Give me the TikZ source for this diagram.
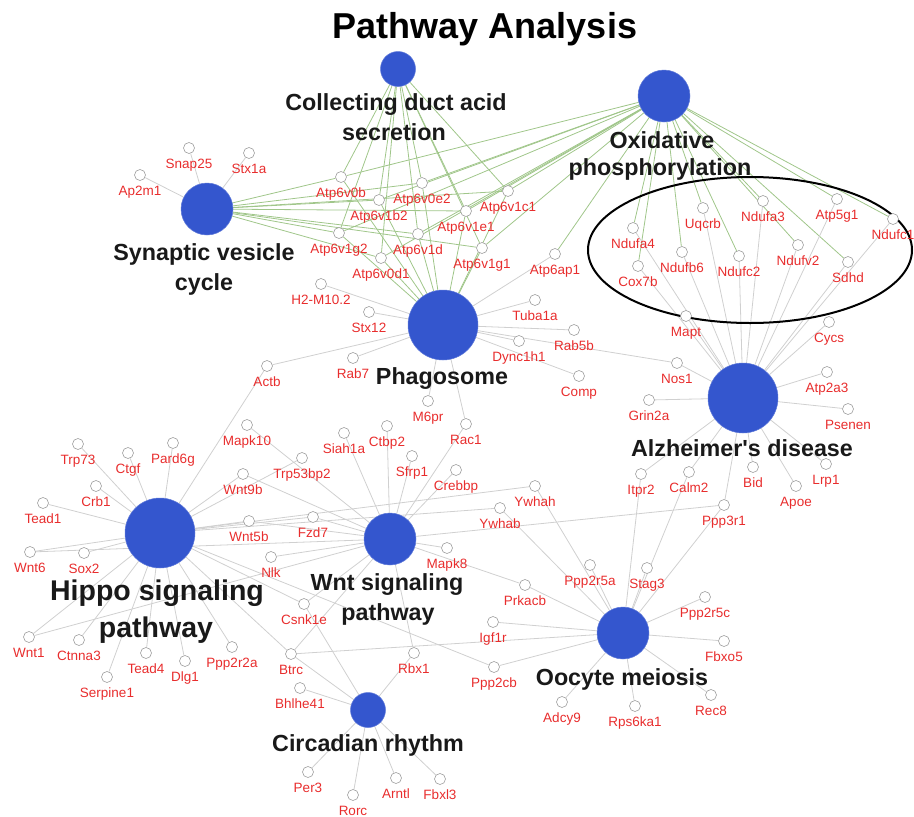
\documentclass[tikz,border=0pt]{standalone}
\usepackage{fontspec}
\setmainfont{Liberation Sans}[Ligatures=TeXOff]
\usetikzlibrary{shapes.geometric}
\pgfdeclarelayer{bg}
\pgfsetlayers{bg,main}
\definecolor{hubblue}{RGB}{52,86,206}
\definecolor{genered}{RGB}{232,45,45}
\definecolor{edgegray}{RGB}{208,208,208}
\definecolor{edgegreen}{RGB}{160,198,138}
\definecolor{hubtext}{RGB}{25,25,25}
\tikzset{
  gene/.style={circle,draw=gray!75,fill=white,minimum size=11pt,inner sep=0pt,line width=0.6pt},
  lab/.style={anchor=base,inner sep=0pt,text=genered,font=\fontsize{13.5}{15}\selectfont},
  hub/.style={circle,fill=hubblue,draw=hubblue!80,line width=0.5pt,inner sep=0pt,minimum size=#1},
  hublab/.style={anchor=base,inner sep=0pt,text=hubtext,font=\bfseries\fontsize{23.3}{28}\selectfont},
  biglab/.style={anchor=base,inner sep=0pt,text=hubtext,font=\bfseries\fontsize{28.5}{34}\selectfont},
  eg/.style={draw=edgegray,line width=0.8pt},
  egr/.style={draw=edgegreen,line width=0.8pt},
}
\newcommand\gn[4]{\node[gene] (#1) at (#2,#3) {};\node[lab] (#1l) at (#2,#3+20.8) {#4};}
\begin{document}
\begin{tikzpicture}[x=1pt,y=-1pt]
\useasboundingbox (0,0) rectangle (914,817);
% title
\node[anchor=base,inner sep=0pt,text=black,font=\bfseries\fontsize{36}{40}\selectfont] (title) at (485,38.9) {Pathway Analysis};
% hubs
\node[hub=35pt] (CD) at (398,69) {};
\node[hub=52pt] (OX) at (664,96) {};
\node[hub=52pt] (SV) at (207,209) {};
\node[hub=70pt] (PH) at (443,325) {};
\node[hub=70pt] (AD) at (743,398) {};
\node[hub=70pt] (HP) at (160,533) {};
\node[hub=52pt] (WN) at (390,539) {};
\node[hub=52pt] (OO) at (623,633) {};
\node[hub=35pt] (CR) at (368,710) {};
% hub labels
\node[hublab] (CDl1) at (396,110.3) {Collecting duct acid};
\node[hublab] (CDl2) at (394,140.3) {secretion};
\node[hublab] (OXl1) at (662,148.3) {Oxidative};
\node[hublab] (OXl2) at (660,175.3) {phosphorylation};
\node[hublab] (SVl1) at (204,260.3) {Synaptic vesicle};
\node[hublab] (SVl2) at (204,290.3) {cycle};
\node[hublab] (PHl) at (442,384.3) {Phagosome};
\node[hublab] (ADl) at (742,456.3) {Alzheimer's disease};
\node[biglab] (HPl1) at (157,600.2) {Hippo signaling};
\node[biglab] (HPl2) at (156,637.2) {pathway};
\node[hublab] (WNl1) at (387,590.3) {Wnt signaling};
\node[hublab] (WNl2) at (388,620.3) {pathway};
\node[hublab] (OOl) at (622,685.3) {Oocyte meiosis};
\node[hublab] (CRl) at (368,751.3) {Circadian rhythm};
% ellipse
\node[ellipse,draw=black,line width=2pt,minimum width=324pt,minimum height=146pt,inner sep=0pt] (oxset) at (750,250) {};
% genes
\gn{Snap25}{189}{148}{Snap25}
\gn{Stx1a}{249}{153}{Stx1a}
\gn{Ap2m1}{140}{175}{Ap2m1}
\gn{H2M}{321}{284}{H2-M10.2}
\gn{A0b}{341}{177}{Atp6v0b}
\gn{A0e2}{422}{183}{Atp6v0e2}
\gn{A1b2}{379}{200}{Atp6v1b2}
\gn{A1c1}{508}{191}{Atp6v1c1}
\gn{A1e1}{466}{211}{Atp6v1e1}
\gn{A1g2}{339}{233}{Atp6v1g2}
\gn{A1d}{418}{234}{Atp6v1d}
\gn{A0d1}{381}{258}{Atp6v0d1}
\gn{A1g1}{482}{248}{Atp6v1g1}
\gn{Aap1}{555}{254}{Atp6ap1}
\gn{Stx12}{369}{312}{Stx12}
\gn{Tuba1a}{535}{300}{Tuba1a}
\gn{Rab5b}{574}{330}{Rab5b}
\gn{Dync1h1}{519}{341}{Dync1h1}
\gn{Rab7}{353}{358}{Rab7}
\gn{Comp}{579}{376}{Comp}
\gn{M6pr}{428}{401}{M6pr}
\gn{Rac1}{466}{424}{Rac1}
\gn{Siah1a}{344}{433}{Siah1a}
\gn{Ctbp2}{387}{426}{Ctbp2}
\gn{Sfrp1}{412}{456}{Sfrp1}
\gn{Crebbp}{456}{470}{Crebbp}
\gn{Ywhah}{535}{486}{Ywhah}
\gn{Ywhab}{500}{508}{Ywhab}
\gn{Mapk8}{447}{548}{Mapk8}
\gn{Fzd7}{313}{517}{Fzd7}
\gn{Wnt5b}{249}{521}{Wnt5b}
\gn{Nlk}{271}{557}{Nlk}
\gn{Csnk1e}{304}{604}{Csnk1e}
\gn{Wnt9b}{243}{474}{Wnt9b}
\gn{Trp53bp2}{302}{458}{Trp53bp2}
\gn{Mapk10}{247}{425}{Mapk10}
\gn{Actb}{267}{366}{Actb}
\gn{Trp73}{78}{444}{Trp73}
\gn{Ctgf}{128}{453}{Ctgf}
\gn{Pard6g}{173}{443}{Pard6g}
\gn{Crb1}{96}{486}{Crb1}
\gn{Tead1}{43}{503}{Tead1}
\gn{Wnt6}{30}{552}{Wnt6}
\gn{Sox2}{84}{553}{Sox2}
\gn{Wnt1}{29}{637}{Wnt1}
\gn{Ctnna3}{79}{640}{Ctnna3}
\gn{Tead4}{146}{653}{Tead4}
\gn{Dlg1}{185}{661}{Dlg1}
\gn{Ppp2r2a}{232}{647}{Ppp2r2a}
\gn{Serpine1}{107}{677}{Serpine1}
\gn{Btrc}{291}{654}{Btrc}
\gn{Bhlhe41}{300}{688}{Bhlhe41}
\gn{Rbx1}{414}{653}{Rbx1}
\gn{Igf1r}{493}{622}{Igf1r}
\gn{Ppp2cb}{494}{667}{Ppp2cb}
\gn{Prkacb}{525}{585}{Prkacb}
\gn{Per3}{308}{772}{Per3}
\gn{Rorc}{353}{795}{Rorc}
\gn{Arntl}{396}{778}{Arntl}
\gn{Fbxl3}{440}{779}{Fbxl3}
\gn{Ppp3r1}{724}{505}{Ppp3r1}
\gn{Ppp2r5a}{590}{565}{Ppp2r5a}
\gn{Stag3}{647}{568}{Stag3}
\gn{Ppp2r5c}{705}{597}{Ppp2r5c}
\gn{Fbxo5}{724}{641}{Fbxo5}
\gn{Rec8}{711}{695}{Rec8}
\gn{Rps6ka1}{635}{706}{Rps6ka1}
\gn{Adcy9}{562}{702}{Adcy9}
\gn{Nos1}{677}{363}{Nos1}
\gn{Grin2a}{649}{400}{Grin2a}
\gn{Atp2a3}{827}{372}{Atp2a3}
\gn{Psenen}{848}{409}{Psenen}
\gn{Itpr2}{641}{474}{Itpr2}
\gn{Calm2}{689}{472}{Calm2}
\gn{Bid}{753}{467}{Bid}
\gn{Lrp1}{826}{464}{Lrp1}
\gn{Apoe}{796}{486}{Apoe}
\gn{Mapt}{686}{316}{Mapt}
\gn{Cycs}{829}{322}{Cycs}
\gn{Ndufa4}{633}{228}{Ndufa4}
\gn{Cox7b}{638}{266}{Cox7b}
\gn{Uqcrb}{703}{208}{Uqcrb}
\gn{Ndufb6}{682}{252}{Ndufb6}
\gn{Ndufc2}{739}{256}{Ndufc2}
\gn{Ndufa3}{763}{201}{Ndufa3}
\gn{Ndufv2}{798}{245}{Ndufv2}
\gn{Atp5g1}{837}{199}{Atp5g1}
\gn{Ndufc1}{893}{219}{Ndufc1}
\gn{Sdhd}{848}{262}{Sdhd}
% edges
\begin{pgfonlayer}{bg}
\foreach \g in {A0b,A0e2,A1b2,A1c1,A1e1,A1g2,A1d,A0d1,A1g1}{
  \draw[egr] (SV) -- (\g);
  \draw[egr] (CD) -- (\g);
  \draw[egr] (OX) -- (\g);
  \draw[egr] (PH) -- (\g);
}
\foreach \g in {Snap25,Stx1a,Ap2m1} \draw[eg] (SV) -- (\g);
\foreach \g in {Aap1,Ndufa4,Cox7b,Uqcrb,Ndufb6,Ndufc2,Ndufa3,Ndufv2,Atp5g1,Ndufc1,Sdhd} \draw[egr] (OX) -- (\g);
\foreach \g in {Aap1,H2M,Stx12,Tuba1a,Rab5b,Dync1h1,Comp,Rab7,M6pr,Rac1,Actb,Nos1} \draw[eg] (PH) -- (\g);
\foreach \g in {Ndufa4,Cox7b,Uqcrb,Ndufb6,Ndufc2,Ndufa3,Ndufv2,Atp5g1,Ndufc1,Sdhd,Mapt,Cycs,Nos1,Grin2a,Atp2a3,Psenen,Itpr2,Calm2,Bid,Lrp1,Apoe,Ppp3r1} \draw[eg] (AD) -- (\g);
\foreach \g in {Trp73,Ctgf,Pard6g,Crb1,Tead1,Wnt6,Sox2,Wnt1,Ctnna3,Tead4,Dlg1,Ppp2r2a,Serpine1,Actb,Wnt9b,Wnt5b,Fzd7,Trp53bp2,Btrc,Csnk1e,Ppp2cb,Ywhab,Ywhah} \draw[eg] (HP) -- (\g);
\foreach \g in {Wnt9b,Wnt5b,Wnt6,Wnt1,Fzd7,Mapk10,Siah1a,Ctbp2,Sfrp1,Crebbp,Rac1,Mapk8,Nlk,Csnk1e,Btrc,Rbx1,Prkacb,Ppp3r1} \draw[eg] (WN) -- (\g);
\foreach \g in {Ppp2r5a,Stag3,Ppp2r5c,Fbxo5,Rec8,Rps6ka1,Adcy9,Igf1r,Ppp2cb,Prkacb,Ywhab,Ywhah,Itpr2,Calm2,Ppp3r1,Btrc} \draw[eg] (OO) -- (\g);
\foreach \g in {Per3,Rorc,Arntl,Fbxl3,Bhlhe41,Btrc,Csnk1e,Rbx1} \draw[eg] (CR) -- (\g);
\end{pgfonlayer}
\end{tikzpicture}
\end{document}
